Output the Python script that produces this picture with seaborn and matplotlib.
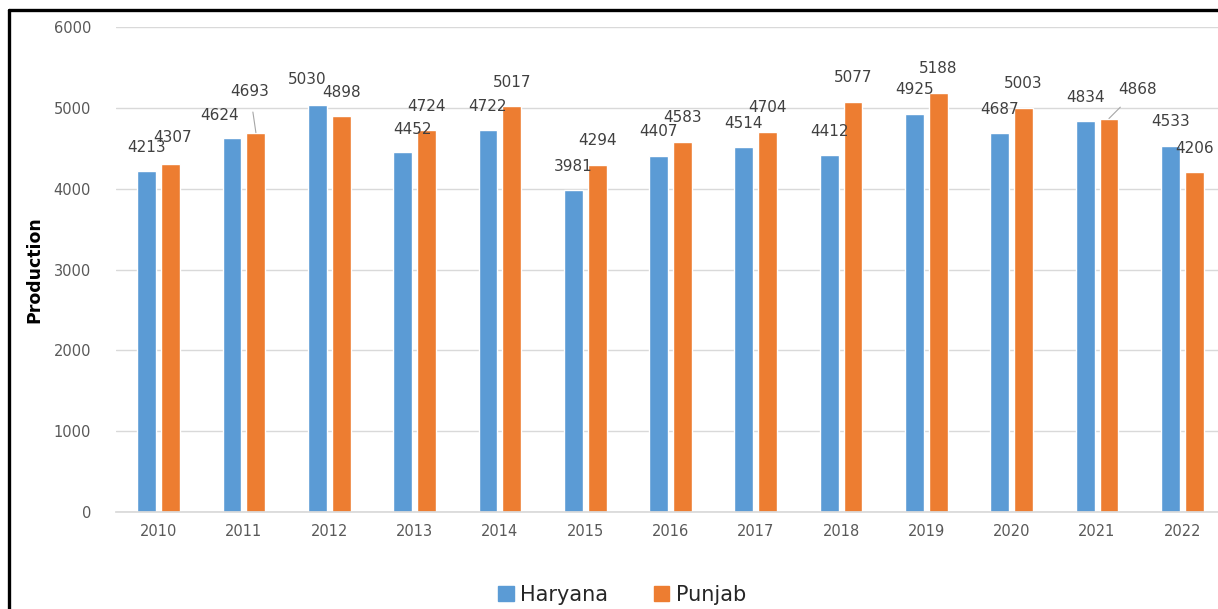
"""Haryana vs Punjab production, 2010-2022 (grouped bars)."""
import matplotlib
matplotlib.use("Agg")
import matplotlib.pyplot as plt
from matplotlib.lines import Line2D
import pandas as pd
import seaborn as sns

YEARS = ["2010", "2011", "2012", "2013", "2014", "2015", "2016",
         "2017", "2018", "2019", "2020", "2021", "2022"]
HARYANA = [4213, 4624, 5030, 4452, 4722, 3981, 4407, 4514, 4412, 4925, 4687, 4834, 4533]
PUNJAB = [4307, 4693, 4898, 4724, 5017, 4294, 4583, 4704, 5077, 5188, 5003, 4868, 4206]
STATES = ["Haryana", "Punjab"]
COLORS = {"Haryana": "#5B9BD5", "Punjab": "#ED7D31"}

# label nudges (pixels) where the original chart moved a label off its bar
NUDGE = {("Haryana", "2011"): (-12, 23), ("Punjab", "2011"): (-6, 41),
         ("Haryana", "2012"): (-10, 26), ("Haryana", "2013"): (10, 23),
         ("Punjab", "2021"): (29, 29), ("Punjab", "2010"): (2, 26)}
LEADERS = {("Punjab", "2011"), ("Punjab", "2021")}

df = pd.DataFrame({"Year": YEARS * 2, "Production": HARYANA + PUNJAB,
                   "State": ["Haryana"] * len(YEARS) + ["Punjab"] * len(YEARS)})

sns.set_theme(style="white")
plt.rcParams["font.family"] = ["DejaVu Sans"]
fig = plt.figure(figsize=(12.18, 6.09), dpi=100)
ax = fig.add_axes([116 / 1218, 97 / 609, 1109 / 1218, 485 / 609])

sns.barplot(data=df, x="Year", y="Production", hue="State", hue_order=STATES,
            palette=COLORS, width=0.56, gap=0.21, saturation=1, ax=ax, legend=False)

for state, cont in zip(STATES, ax.containers):
    for year, bar in zip(YEARS, cont):
        x = bar.get_x() + bar.get_width() / 2
        v = bar.get_height()
        dx, dy = NUDGE.get((state, year), (0, 24))
        arrow = None
        if (state, year) in LEADERS:
            arrow = dict(arrowstyle="-", color="#A6A6A6", lw=0.8, shrinkA=7, shrinkB=0)
        ax.annotate(f"{int(v)}", xy=(x, v), xytext=(dx, dy), textcoords="offset pixels",
                    ha="center", va="center", fontsize=11, color="#404040", arrowprops=arrow)

ax.set_ylim(0, 6000)
ax.set_xlim(-0.5, 12.5)
ax.set_yticks(range(0, 6001, 1000))
ax.yaxis.grid(True, color="#D9D9D9", lw=1)
ax.set_axisbelow(True)
for s in ["top", "right", "left"]:
    ax.spines[s].set_visible(False)
ax.spines["bottom"].set_color("#D9D9D9")
ax.tick_params(axis="y", length=0, pad=18, labelsize=10.5, labelcolor="#595959")
ax.tick_params(axis="x", length=0, pad=9, labelsize=10.5, labelcolor="#595959")
ax.set_xlabel("")
ax.set_ylabel("Production", fontsize=12.5, fontweight="bold", color="black", labelpad=7)

handles = [plt.Rectangle((0, 0), 1, 1, color=COLORS[s]) for s in STATES]
fig.legend(handles, STATES, loc="center", bbox_to_anchor=(622 / 1218, 14 / 609), ncol=2,
           frameon=False, fontsize=15, handlelength=0.75, handleheight=0.75,
           handletextpad=0.3, columnspacing=2.2)

# outer frame (left and top edges visible in the source)
fig.add_artist(Line2D([9 / 1218, 9 / 1218], [0, 599.5 / 609], color="black", lw=2.4))
fig.add_artist(Line2D([9 / 1218, 1], [599.5 / 609, 599.5 / 609], color="black", lw=2.4))

fig.savefig("out.png", dpi=100)
